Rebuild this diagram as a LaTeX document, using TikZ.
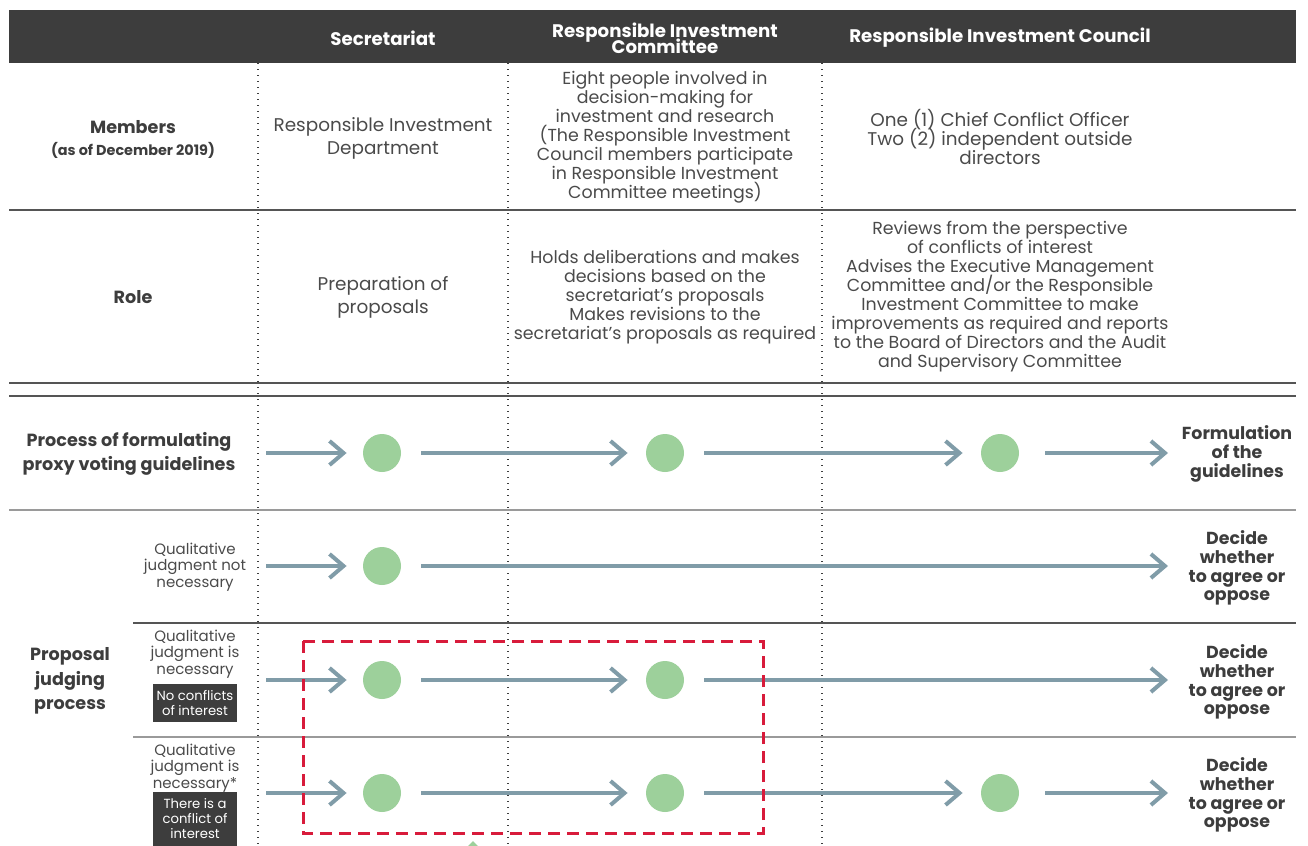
\documentclass[tikz,border=0pt]{standalone}
\usepackage{fontspec}
\setmainfont{Poppins}
\usetikzlibrary{arrows.meta}
\definecolor{headgray}{HTML}{3D3D3D}
\definecolor{textgray}{HTML}{4A4A4A}
\definecolor{flowblue}{HTML}{809CA8}
\definecolor{dotgreen}{HTML}{9DD09B}
\definecolor{alertred}{HTML}{D81B3B}
\definecolor{rulegray}{HTML}{555555}
\definecolor{rulelight}{HTML}{9A9A9A}
\lineskiplimit=-20pt

\begin{document}
\begin{tikzpicture}[
    x=0.5pt, y=-0.5pt,
    head/.style={text=white, font=\bfseries\fontsize{9.1}{8}\selectfont, align=center, inner sep=0pt},
    cell/.style={text=textgray, font=\fontsize{8.7}{9.5}\selectfont, align=center, inner sep=0pt},
    rowlabel/.style={text=headgray, font=\bfseries\fontsize{8.8}{12.3}\selectfont, align=center, inner sep=0pt},
    sublabel/.style={text=textgray, font=\fontsize{7.5}{8.3}\selectfont, align=center, inner sep=0pt},
    tag/.style={fill=headgray, text=white, font=\fontsize{6.6}{7.5}\selectfont, align=center, minimum width=42pt, inner sep=0pt},
    outcome/.style={text=headgray, font=\bfseries\fontsize{8.7}{9.4}\selectfont, align=center, inner sep=0pt},
    dot/.style={circle, fill=dotgreen, minimum size=19pt, inner sep=0pt},
    flow/.style={-{Straight Barb[length=7pt, width=12pt]}, draw=flowblue, line width=2pt},
    rule/.style={draw=rulegray, line width=0.6pt},
    lightrule/.style={draw=rulelight, line width=0.8pt},
    column/.style={draw=headgray, line width=0.7pt, dash pattern=on 0.7pt off 2.3pt},
    focus/.style={draw=alertred, line width=1.5pt, dash pattern=on 6pt off 3.5pt}
]
    \useasboundingbox (0,0) rectangle (1308,846);

    % header bar
    \fill[headgray] (9,10) rectangle (1296,63);
    \node[head] (hsec) at (383,38) {Secretariat};
    \node[head] (hcom) at (665,38) {Responsible Investment\\Committee};
    \node[head] (hcou) at (1000,38) {Responsible Investment Council};

    % grid
    \draw[rule] (9,210) -- (1296,210);
    \draw[rule] (9,383) -- (1296,383);
    \draw[rule] (9,396) -- (1296,396);
    \draw[lightrule] (9,510) -- (1296,510);
    \draw[rule] (133,623) -- (1296,623);
    \draw[lightrule] (133,737) -- (1296,737);
    \draw[column] (258,63) -- (258,846);
    \draw[column] (508,63) -- (508,846);
    \draw[column] (822,63) -- (822,846);

    % members and role
    \node[rowlabel] (memlabel) at (133,127) {Members};
    \node[rowlabel, font=\bfseries\fontsize{7.2}{7}\selectfont] (memdate) at (133,150) {(as of December 2019)};
    \node[cell, font=\fontsize{9.2}{11.5}\selectfont] (msec) at (383,138) {Responsible Investment\\Department};
    \node[cell] (mcom) at (665,137) {Eight people involved in\\decision-making for\\investment and research\\(The Responsible Investment\\Council members participate\\in Responsible Investment\\Committee meetings)};
    \node[cell, font=\fontsize{9.2}{9.5}\selectfont] (mcou) at (1000,137) {One (1) Chief Conflict Officer\\Two (2) independent outside\\directors};

    \node[rowlabel] (rolelabel) at (133,297) {Role};
    \node[cell, font=\fontsize{9.2}{11.5}\selectfont] (rsec) at (383,297) {Preparation of\\proposals};
    \node[cell] (rcom) at (665,297) {Holds deliberations and makes\\decisions based on the\\secretariat’s proposals\\Makes revisions to the\\secretariat’s proposals as required};
    \node[cell] (rcou) at (1000,297) {Reviews from the perspective\\of conflicts of interest\\Advises the Executive Management\\Committee and/or the Responsible\\Investment Committee to make\\improvements as required and reports\\to the Board of Directors and the Audit\\and Supervisory Committee};

    % process rows
    \node[rowlabel] (proclabel) at (129,454) {Process of formulating\\proxy voting guidelines};
    \node[rowlabel] (proplabel) at (70,681) {Proposal\\judging\\process};

    \node[sublabel] (qnot) at (195,567) {Qualitative\\judgment not\\necessary};
    \node[sublabel] (qnec) at (195,654) {Qualitative\\judgment is\\necessary};
    \node[tag, minimum height=19pt] (tagno) at (195,703) {No conflicts\\of interest};
    \node[sublabel] (qcon) at (195,768) {Qualitative\\judgment is\\necessary*};
    \node[tag, minimum height=27pt] (tagyes) at (195,819) {There is a\\conflict of\\interest};

    \node[outcome] (out1) at (1237,454) {Formulation\\of the\\guidelines};
    \node[outcome] (out2) at (1237,568) {Decide\\whether\\to agree or\\oppose};
    \node[outcome] (out3) at (1237,682) {Decide\\whether\\to agree or\\oppose};
    \node[outcome] (out4) at (1237,795) {Decide\\whether\\to agree or\\oppose};

    \node[dot] (sec1) at (382,453) {};
    \node[dot] (com1) at (665,453) {};
    \node[dot] (cou1) at (1000,453) {};
    \node[dot] (sec2) at (382,566) {};
    \node[dot] (sec3) at (382,680) {};
    \node[dot] (com3) at (665,680) {};
    \node[dot] (sec4) at (382,793) {};
    \node[dot] (com4) at (665,793) {};
    \node[dot] (cou4) at (1000,793) {};

    \coordinate (start1) at (266,453);
    \coordinate (start2) at (266,566);
    \coordinate (start3) at (266,680);
    \coordinate (start4) at (266,793);
    \coordinate (end1) at (1168,453);
    \coordinate (end2) at (1168,566);
    \coordinate (end3) at (1168,680);
    \coordinate (end4) at (1168,793);

    \draw[flow, shorten >=8pt] (start1) -- (sec1);
    \draw[flow, shorten <=10pt, shorten >=9pt] (sec1) -- (com1);
    \draw[flow, shorten <=10pt, shorten >=9pt] (com1) -- (cou1);
    \draw[flow, shorten <=13pt] (cou1) -- (end1);

    \draw[flow, shorten >=8pt] (start2) -- (sec2);
    \draw[flow, shorten <=10pt] (sec2) -- (end2);

    \draw[flow, shorten >=8pt] (start3) -- (sec3);
    \draw[flow, shorten <=10pt, shorten >=9pt] (sec3) -- (com3);
    \draw[flow, shorten <=10pt] (com3) -- (end3);

    \draw[flow, shorten >=8pt] (start4) -- (sec4);
    \draw[flow, shorten <=10pt, shorten >=9pt] (sec4) -- (com4);
    \draw[flow, shorten <=10pt, shorten >=9pt] (com4) -- (cou4);
    \draw[flow, shorten <=13pt] (cou4) -- (end4);

    \draw[focus] (303,641) rectangle (763,833);
    \fill[dotgreen] (468,846) -- (473,841) -- (478,846) -- cycle;
\end{tikzpicture}
\end{document}
